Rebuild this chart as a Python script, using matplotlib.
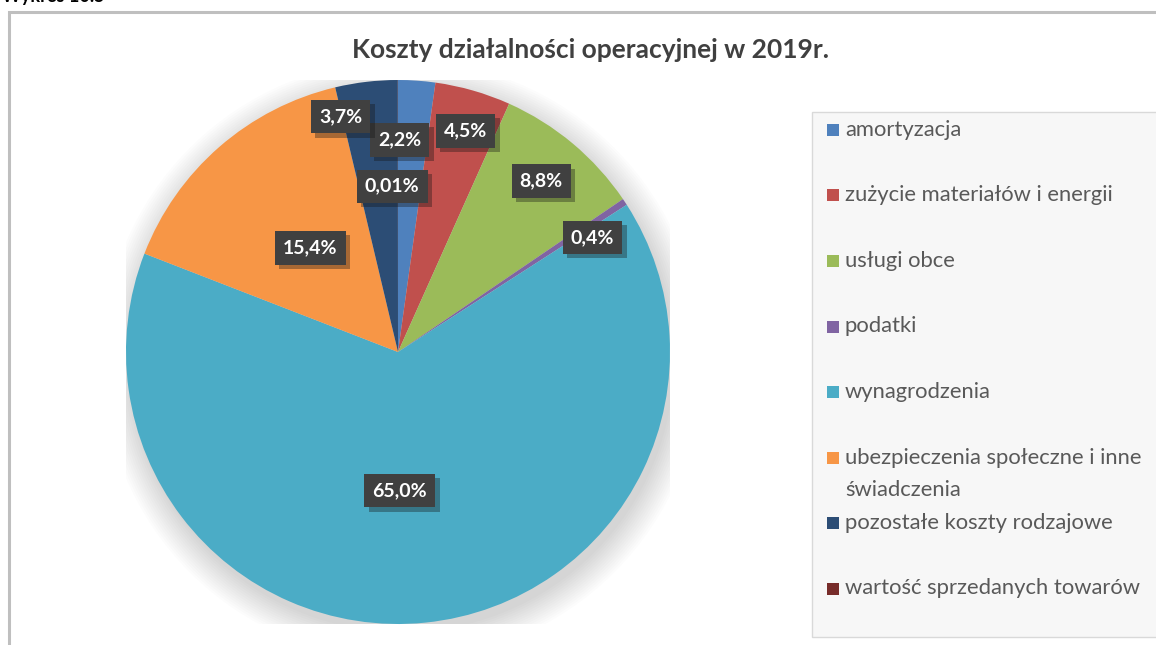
import numpy as np
import matplotlib
matplotlib.use("Agg")
import matplotlib.pyplot as plt
from matplotlib.patches import Rectangle, Circle
from matplotlib import patheffects as pe

# data (Excel order, clockwise from 12 o'clock)
categories = ['amortyzacja', 'zużycie materiałów i energii', 'usługi obce', 'podatki',
              'wynagrodzenia', 'ubezpieczenia społeczne i inne\nświadczenia',
              'pozostałe koszty rodzajowe', 'wartość sprzedanych towarów']
shares = [2.2, 4.5, 8.8, 0.4, 65.0, 15.4, 3.7, 0.01]
labels = ['2,2%', '4,5%', '8,8%', '0,4%', '65,0%', '15,4%', '3,7%', '0,01%']
colors = ['#4F81BD', '#C0504D', '#9BBB59', '#8064A2', '#4BACC6', '#F79646', '#2C4D75', '#772C2A']

# where Excel put each label: radial distance and angle nudge (deg, clockwise)
lbl_dist = [0.78, 0.85, 0.82, 0.83, 0.51, 0.50, 0.89, 0.61]
lbl_nudge = [-3.5, 1, 0, 3, 5, 1, -7, -2]

plt.rcParams['font.family'] = ['Lato', 'DejaVu Sans']

W, H = 1156, 645
fig = plt.figure(figsize=(W / 100, H / 100), dpi=100)

# outer chart frame
fig.patches.append(Rectangle((9 / W, -0.1), 1.2, 1 - 12 / H + 0.1, transform=fig.transFigure,
                             facecolor='none', edgecolor='#BFBFBF', linewidth=2.2, zorder=0))
# heading of the page above the chart, mostly cut off like in the source
fig.text(2 / W, 1 - 2 / H, 'Wykres 10.5', fontsize=13, fontweight='bold', va='baseline', ha='left')

ax = fig.add_axes([126 / W, 21 / H, 544 / W, 544 / H])

# soft shadow under the pie
for i in range(14):
    ax.add_patch(Circle((0.015, -0.03), 1.0 + i * 0.008, color='black', alpha=0.012, lw=0, zorder=0))

wedges, _ = ax.pie(shares, colors=colors, startangle=90, counterclock=False, radius=1.0,
                   wedgeprops=dict(linewidth=0))
for w in wedges:
    w.set_zorder(2)

for w, lab, d, nd in zip(wedges, labels, lbl_dist, lbl_nudge):
    ang = np.deg2rad((w.theta1 + w.theta2) / 2 - nd)
    t = ax.text(d * np.cos(ang), d * np.sin(ang), lab, ha='center', va='center',
                fontsize=14, fontweight='bold', color='white', zorder=5,
                bbox=dict(boxstyle='square,pad=0.42', facecolor='#404040', edgecolor='none'))
    t.get_bbox_patch().set_path_effects([pe.SimplePatchShadow(offset=(3, -3), alpha=0.35), pe.Normal()])

ax.set_xlim(-1, 1)
ax.set_ylim(-1, 1)
ax.set_aspect('equal')
ax.axis('off')

fig.text(590 / W, 1 - 50 / H, 'Koszty działalności operacyjnej w 2019r.', ha='center', va='center',
         fontsize=19, fontweight='bold', color='#404040')

# legend panel
fig.patches.append(Rectangle((812 / W, 1 - 637 / H), 0.5, (637 - 112) / H, transform=fig.transFigure,
                             facecolor='#F7F7F7', edgecolor='#D9D9D9', linewidth=1, zorder=1))
y0, step = 130, 65.5
for i, (name, c) in enumerate(zip(categories, colors)):
    y = y0 + i * step
    fig.patches.append(Rectangle((827 / W, 1 - (y + 6) / H), 12 / W, 12 / H, transform=fig.transFigure,
                                 facecolor=c, edgecolor='none', zorder=2))
    for k, line in enumerate(name.split('\n')):
        fig.text(845 / W, 1 - (y + 6 + 32 * k) / H, line, ha='left', va='baseline', fontsize=15.8,
                 color='#595959', zorder=3)

fig.savefig('out.png', dpi=100)
